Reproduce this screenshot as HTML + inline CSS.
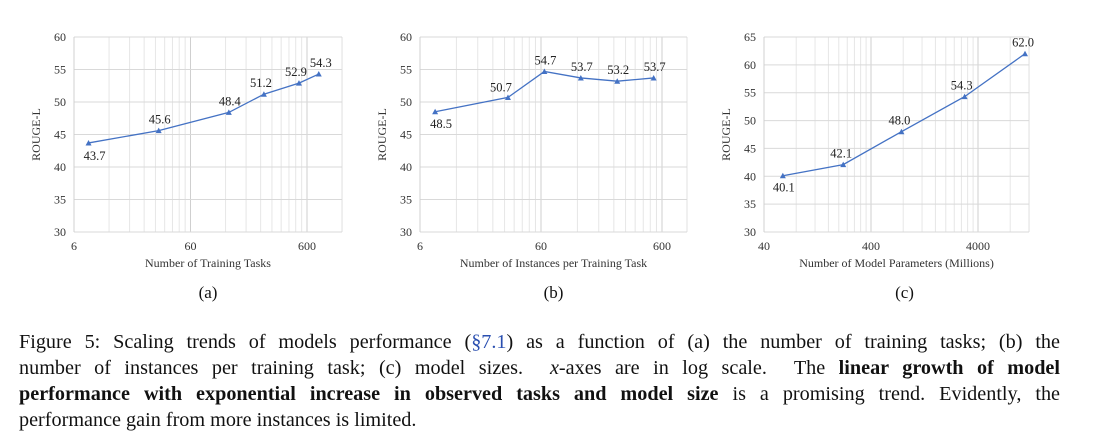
<!DOCTYPE html>
<html><head><meta charset="utf-8">
<style>
body{margin:0;background:#fff;width:1093px;height:446px;overflow:hidden;position:relative;font-family:"Liberation Serif",serif;}
svg{position:absolute;left:0;top:0}
.cap{position:absolute;left:19px;width:1041px;font-size:20.2px;line-height:26px;color:#111;white-space:nowrap}
.j{text-align:justify;text-align-last:justify}
.ref{color:#2a4fb0}
</style></head><body>
<svg id="fig" width="1093" height="320" viewBox="0 0 1093 320"></svg>
<div class="cap j" style="top:329px">Figure 5: Scaling trends of models performance (<span class="ref">§7.1</span>) as a function of (a) the number of training tasks; (b) the</div>
<div class="cap j" style="top:355px">number of instances per training task; (c) model sizes. &nbsp;<i>x</i>-axes are in log scale. &nbsp;The <b>linear growth of model</b></div>
<div class="cap j" style="top:381px"><b>performance with exponential increase in observed tasks and model size</b> is a promising trend. Evidently, the</div>
<div class="cap" style="top:407px">performance gain from more instances is limited.</div>
<script>
const xA=[8,32,128,256,512,757];
const yA=[43.7,45.6,48.4,51.2,52.9,54.3];
const xB=[8,32,64,128,256,512];
const yB=[48.5,50.7,54.7,53.7,53.2,53.7];
const xC=[60,220,770,3000,11000];
const yC=[40.1,42.1,48.0,54.3,62.0];
const ticksXA=[6,60,600];
const ticksXB=[6,60,600];
const ticksXC=[40,400,4000];
const NS="http://www.w3.org/2000/svg";
const svg=document.getElementById('fig');
function mk(tag,attrs,name){const e=document.createElementNS(NS,tag);for(const k in attrs)e.setAttribute(k,attrs[k]);


svg.appendChild(e);return e;}
function chart(id,L,R,dec,xmin,ymin,ymax,xs,ys,ticks,title,letter,labOff){
 const T=37,B=232;
 const X=v=>L+(Math.log10(v)-Math.log10(xmin))*dec;
 const Y=v=>B-(v-ymin)/(ymax-ymin)*(B-T);
 let base=xmin;
 while(X(base)<=R+0.5){
  for(let k=1;k<10;k++){const gx=X(base*k);if(gx>R+0.5)break;
   mk('line',{x1:gx,x2:gx,y1:T,y2:B,stroke:k==1?'#cfcfcf':'#e6e6e6','stroke-width':1},id+'-vgrid');}
  base*=10;}
 mk('line',{x1:R,x2:R,y1:T,y2:B,stroke:'#e0e0e0','stroke-width':1},id+'-right-grid');
 for(let v=ymin;v<=ymax;v+=5){
  mk('line',{x1:L,x2:R,y1:Y(v),y2:Y(v),stroke:'#d9d9d9','stroke-width':1},id+'-hgrid');
  const t=mk('text',{x:L-8,y:Y(v)+4,'text-anchor':'end','font-size':12,fill:'#333','font-family':'Liberation Serif'},id+'-y-tick');t.textContent=v;}
 mk('line',{x1:L,x2:L,y1:T,y2:B,stroke:'#d0d0d0'},id+'-y-axis');
 ticks.forEach(v=>{const t=mk('text',{x:X(v),y:B+18,'text-anchor':'middle','font-size':12,fill:'#333','font-family':'Liberation Serif'},id+'-x-tick');t.textContent=v;});
 const xt=mk('text',{x:(L+R)/2,y:B+35,'text-anchor':'middle','font-size':12,fill:'#333','font-family':'Liberation Serif'},id+'-x-axis-title');xt.textContent=title;
 const yt=mk('text',{x:0,y:0,transform:`translate(${L-34},${(T+B)/2}) rotate(-90)`,'text-anchor':'middle','font-size':12,fill:'#333','font-family':'Liberation Serif'},id+'-y-axis-title');yt.textContent='ROUGE-L';
 const pts=xs.map((x,i)=>X(x)+','+Y(ys[i])).join(' ');
 mk('polyline',{points:pts,fill:'none',stroke:'#4472c4','stroke-width':1.3},id+'-series-line');
 xs.forEach((x,i)=>{const px=X(x),py=Y(ys[i]);
  mk('path',{d:`M${px-3},${py+2.5} L${px+3},${py+2.5} L${px},${py-3} Z`,fill:'#4472c4'},id+'-point');
  const o=labOff[i];
  const t=mk('text',{x:px+o[0],y:py+o[1],'text-anchor':'middle','font-size':12.5,fill:'#222','font-family':'Liberation Serif'},id+'-data-label');t.textContent=ys[i].toFixed(1);});
 const c=mk('text',{x:(L+R)/2+ (id=='c'?8:0),y:298,'text-anchor':'middle','font-size':17,fill:'#111','font-family':'Liberation Serif'},id+'-panel-label');c.textContent=letter;
}
chart('a',74,342,116.5,6,30,60,xA,yA,ticksXA,'Number of Training Tasks','(a)',[[6,17],[1,-7],[1,-7],[-3,-7],[-3,-7],[2,-7]]);
chart('b',420,687,121,6,30,60,xB,yB,ticksXB,'Number of Instances per Training Task','(b)',[[6,16],[-7,-6],[1,-7],[1,-7],[1,-7],[1,-7]]);
chart('c',764,1029,107,40,30,65,xC,yC,ticksXC,'Number of Model Parameters (Millions)','(c)',[[1,16],[-2,-7],[-2,-7],[-3,-7],[-2,-7]]);
</script>
</body></html>
